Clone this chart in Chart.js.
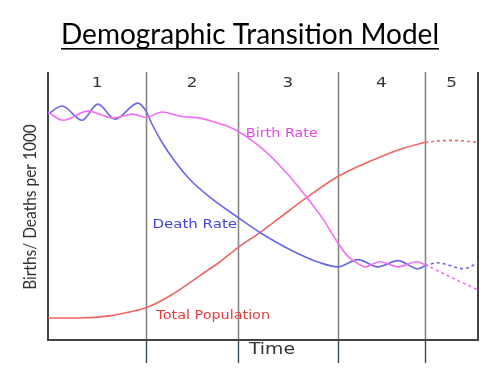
<!DOCTYPE html>
<html>
<head>
<meta charset="utf-8">
<script src="https://cdn.jsdelivr.net/npm/chart.js@4"></script>
<style>
  html, body { margin: 0; padding: 0; background: #fff; }
  #wrap { width: 500px; height: 375px; position: relative; }
</style>
</head>
<body>
<div id="wrap"><canvas id="dtm" width="500" height="375"></canvas></div>
<script>
// Demographic Transition Model — time 0..100, rate 0..100
const stageLabels = ['1', '2', '3', '4', '5'];
const stageBounds = [0, 22.8, 44.2, 67.4, 87.7, 100];

const birthRate = [[0,85],[3.5,82],[9.3,85.4],[15.1,82.8],[19.8,84.3],[22.8,83.1],[26.5,85.1],[30.7,83.5],[35.3,82.8],[38.8,81.3],[42.3,79.4],[44.2,77.9],[47,74.9],[50,71.2],[54.7,63.7],[60.2,53.2],[64,45],[67.4,36.3],[69.8,31.1],[72.1,28.5],[73.7,27.3],[77.2,29.2],[81.4,27.3],[85.8,29.2],[87.7,28.1]];
const birthRateFuture = [[87.7,28.1],[94,23.2],[100,18.7]];

const deathRate = [[0,84.3],[3.3,87.3],[7.9,82],[11.6,88],[15.6,82.4],[20.9,88.4],[22.8,85.4],[24.2,80.5],[26.5,73.8],[29.5,66.7],[33,59.9],[37.7,53.2],[44.2,45.7],[49.3,40.1],[56.3,33.7],[63.3,28.8],[67.4,27.3],[72.1,30],[76.7,27.3],[81.4,29.6],[86,26.6],[87.7,27.7]];
const deathRateFuture = [[87.7,27.7],[90.5,28.8],[96.7,26.6],[100,28.8]];

const totalPop = [[0,8.2],[7.4,8.2],[14.4,9],[19.1,10.5],[22.8,12],[28.4,16.5],[35.3,24],[40,29.2],[44.2,34.5],[49.3,40.1],[53.3,44.9],[60.2,53.2],[67.4,61],[74.9,66.7],[81.9,71.2],[87.7,73.8]];
const totalPopFuture = [[87.7,73.8],[93.5,74.5],[100,73.8]];

const seriesLabels = [
  { text: 'Birth Rate', x: 46, y: 77, color: '#e44ae4' },
  { text: 'Death Rate', x: 24.3, y: 43, color: '#4444dd' },
  { text: 'Total Population', x: 25.2, y: 9, color: '#e63a3a' },
];

const pts = arr => arr.map(p => ({ x: p[0], y: p[1] }));
const BIRTH = '#f070f0', DEATH = '#6868e8', POP = '#f06464';

function line(data, color, dashed) {
  return { data: pts(data), borderColor: color, borderWidth: 1.6, pointRadius: 0,
           cubicInterpolationMode: 'monotone', fill: false, borderDash: dashed ? [3, 3] : [] };
}

// text drawn a bit wider, as in the stretched original
function wideText(ctx, text, x, y, sx) {
  ctx.save();
  ctx.translate(x, y); ctx.scale(sx, 1);
  ctx.fillText(text, 0, 0);
  ctx.restore();
}

const framePlugin = {
  id: 'frame',
  beforeDatasetsDraw(chart) {
    const { ctx, chartArea: a, scales: { x } } = chart;
    ctx.save();
    ctx.strokeStyle = '#858585'; ctx.lineWidth = 1.6;
    stageBounds.slice(1, -1).forEach(v => {
      const px = Math.round(x.getPixelForValue(v)) + 0.5;
      ctx.beginPath(); ctx.moveTo(px, a.top); ctx.lineTo(px, a.bottom); ctx.stroke();
    });
    ctx.strokeStyle = '#34505e'; ctx.lineWidth = 1.4;
    stageBounds.slice(1, -1).forEach(v => {
      const px = Math.round(x.getPixelForValue(v)) + 0.5;
      ctx.beginPath(); ctx.moveTo(px, a.bottom); ctx.lineTo(px, a.bottom + 23); ctx.stroke();
    });
    ctx.strokeStyle = '#444'; ctx.lineWidth = 2;
    ctx.beginPath(); ctx.moveTo(a.left, a.top); ctx.lineTo(a.left, a.bottom); ctx.lineTo(a.right, a.bottom); ctx.lineTo(a.right, a.top); ctx.stroke();
    ctx.fillStyle = '#333'; ctx.font = '14px "DejaVu Sans"'; ctx.textAlign = 'center'; ctx.textBaseline = 'middle';
    stageLabels.forEach((s, i) => {
      wideText(ctx, s, x.getPixelForValue((stageBounds[i] + stageBounds[i + 1]) / 2), a.top + 11, 1.2);
    });
    ctx.restore();
  },
  afterDatasetsDraw(chart) {
    const { ctx, scales: { x, y } } = chart;
    ctx.save();
    ctx.textBaseline = 'middle'; ctx.textAlign = 'left';
    seriesLabels.forEach(l => {
      ctx.fillStyle = l.color;
      ctx.font = (l.text === 'Death Rate' ? '12px' : '11.5px') + ' "DejaVu Sans"';
      wideText(ctx, l.text, x.getPixelForValue(l.x), y.getPixelForValue(l.y), 1.25);
    });
    ctx.fillStyle = '#333'; ctx.textAlign = 'center';
    ctx.font = '16px "DejaVu Sans"';
    wideText(ctx, 'Time', 272, 350, 1.18);
    ctx.translate(30, 207); ctx.rotate(-Math.PI / 2); ctx.scale(0.86, 1);
    ctx.font = '18px Lato';
    ctx.fillText('Births/ Deaths per 1000', 0, 0);
    ctx.restore();

    ctx.save();
    ctx.fillStyle = '#000'; ctx.font = '28px Lato'; ctx.textAlign = 'center'; ctx.textBaseline = 'alphabetic';
    const t = 'Demographic Transition Model';
    ctx.fillText(t, 250, 44);
    const w = ctx.measureText(t).width;
    ctx.fillRect(250 - w / 2, 48, w, 1.6);
    ctx.restore();
  }
};

new Chart(document.getElementById('dtm').getContext('2d'), {
  type: 'line',
  data: {
    datasets: [
      line(birthRate, BIRTH), line(birthRateFuture, BIRTH, true),
      line(deathRate, DEATH), line(deathRateFuture, DEATH, true),
      line(totalPop, POP), line(totalPopFuture, POP, true),
    ],
  },
  options: {
    responsive: false, animation: false,
    layout: { padding: { left: 48, right: 22, top: 72, bottom: 35 } },
    plugins: { legend: { display: false }, tooltip: { enabled: false } },
    scales: {
      x: { type: 'linear', min: 0, max: 100, display: false },
      y: { min: 0, max: 100, display: false },
    },
  },
  plugins: [framePlugin],
});
</script>
</body>
</html>
